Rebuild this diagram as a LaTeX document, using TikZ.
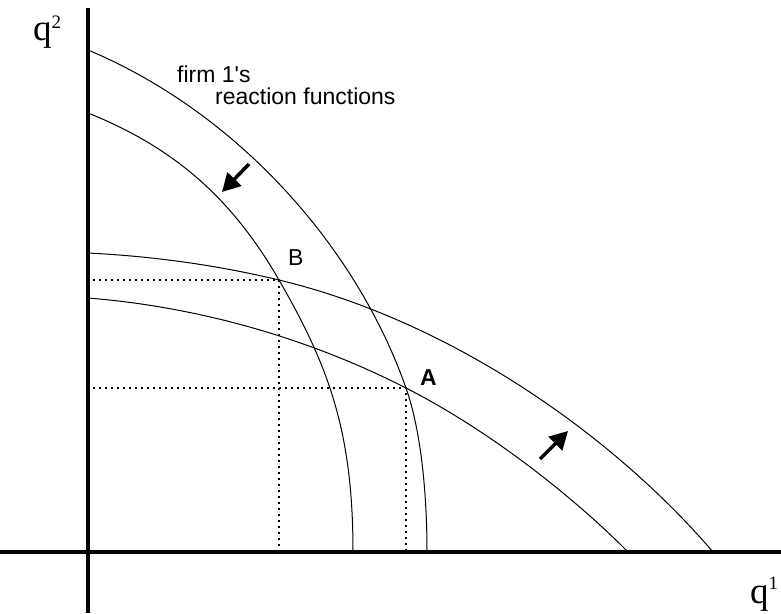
\documentclass[tikz,border=0pt]{standalone}
\usepackage{fontspec}
\newfontfamily\labfont{Liberation Sans}
\newfontfamily\qfont{Liberation Serif}
\usetikzlibrary{arrows.meta}
\begin{document}
\begin{tikzpicture}[x=1pt,y=-1pt,
  axisline/.style={line width=4.5pt},
  curve/.style={line width=1pt},
  guide/.style={line width=1.8pt, dash pattern=on 1.8pt off 4.2pt},
  shiftarrow/.style={line width=3.5pt,-{Triangle[length=18pt,width=19pt]}},
  lbl/.style={inner sep=0pt, anchor=base west, font=\labfont\fontsize{23}{27}\selectfont},
  qlbl/.style={inner sep=0pt, anchor=base west, font=\qfont\fontsize{37}{40}\selectfont},
]
\useasboundingbox (0,0) rectangle (781,613);
% axes
\coordinate (ytop) at (88,8);
\coordinate (ybot) at (88,613);
\coordinate (xl) at (0,552);
\coordinate (xr) at (781,552);
\draw[axisline] (ytop) -- (ybot);
\draw[axisline] (xl) -- (xr);
% intersection points
\coordinate (B) at (279,280);
\coordinate (A) at (406,388);
% dotted guides
\draw[guide] (93,280) -- (B) -- (B |- xl);
\draw[guide] (93,388) -- (A) -- (A |- xl);
% firm 1 reaction functions
\draw[curve] (88,50) .. controls (238,113) and (356.5,247) .. (A)
             .. controls (422.5,435) and (427,502) .. (427,552);
\draw[curve] (88,113) .. controls (178,149) and (234,202) .. (B)
             .. controls (329,366.6) and (353,432) .. (353,552);
% firm 2 reaction functions
\draw[curve] (88,253) .. controls (153,256.3) and (215.8,264.9) .. (B)
             .. controls (454,322) and (615.5,438) .. (713,552);
\draw[curve] (88,298) .. controls (198,306.8) and (308,338) .. (A)
             .. controls (495,433.4) and (579,502.3) .. (628,552);
% shift arrows
\coordinate (a1s) at (249,164);
\coordinate (a1e) at (222,192);
\coordinate (a2s) at (540,459);
\coordinate (a2e) at (568,431);
\draw[shiftarrow] (a1s) -- (a1e);
\draw[shiftarrow] (a2s) -- (a2e);
% labels
\node[lbl] (firm) at (177,82) {firm 1's};
\node[lbl] (react) at (215,104) {reaction functions};
\node[lbl] (labB) at (288,265) {B};
\node[lbl, font=\labfont\bfseries\fontsize{23}{27}\selectfont] (labA) at (420,385) {A};
\node[qlbl] (q2) at (33,40) {q\raisebox{12pt}{\fontsize{19}{20}\selectfont 2}};
\node[qlbl] (q1) at (750,603) {q\raisebox{14pt}{\fontsize{19}{20}\selectfont 1}};
\end{tikzpicture}
\end{document}
